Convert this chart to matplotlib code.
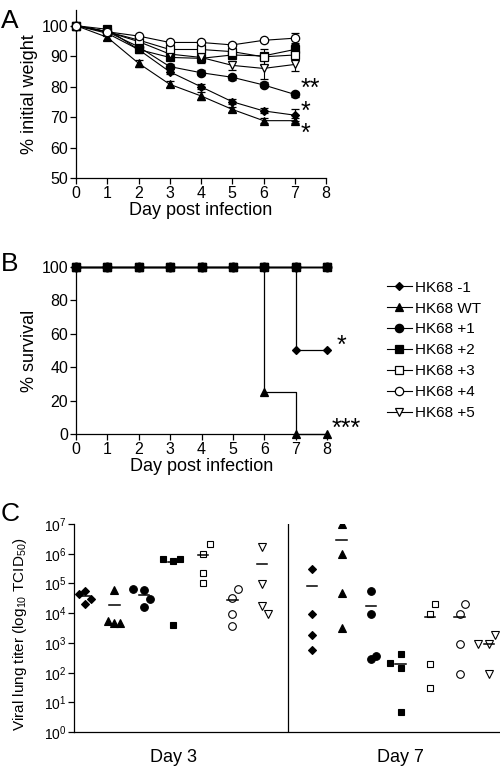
import numpy as np
import matplotlib
matplotlib.use("Agg")
import matplotlib.pyplot as plt
from matplotlib.ticker import NullLocator

plt.rcParams['font.family'] = ['Liberation Sans', 'DejaVu Sans']
plt.rcParams['mathtext.fontset'] = 'custom'
plt.rcParams['mathtext.rm'] = 'Liberation Sans'
plt.rcParams['mathtext.it'] = 'Liberation Sans'

# ---------------- data ----------------
groups = ['HK68 -1', 'HK68 WT', 'HK68 +1', 'HK68 +2', 'HK68 +3', 'HK68 +4', 'HK68 +5']

# panel A: weight (% of initial), days 0..7
days_w = [0, 1, 2, 3, 4, 5, 6, 7]
w_m1 = [100, 97.5, 92.2, 84.9, 80.0, 75.1, 72.1, 70.7]
w_wt = [100, 96.2, 87.7, 80.8, 77.0, 72.6, 68.9, 68.9]
w_p1 = [100, 98.0, 93.1, 86.6, 84.6, 83.1, 80.6, 77.5]
w_p2 = [100, 98.8, 92.2, 89.6, 89.3, 90.4, 90.1, 92.2]
w_p3 = [100, 98.0, 95.3, 92.2, 92.2, 91.5, 89.8, 90.4]
w_p4 = [100, 98.0, 96.6, 94.5, 94.5, 93.7, 95.2, 95.9]
w_p5 = [100, 98.0, 94.8, 90.7, 89.6, 87.0, 86.0, 87.3]

e_m1 = [0, 0.5, 0.8, 0.8, 0.8, 0.8, 0.8, 2.0]
e_wt = [0, 1.0, 1.2, 1.0, 1.3, 0.8, 0.8, 0.8]
e_p1 = [0, 0.5, 0.8, 0.8, 0.8, 0.8, 0.8, 0.8]
e_p2 = [0, 0.5, 1.0, 1.0, 1.5, 1.0, 1.0, 2.0]
e_p3 = [0, 0.5, 0.8, 0.8, 1.0, 1.5, 2.6, 1.5]
e_p4 = [0, 0.5, 0.5, 0.5, 0.5, 0.5, 0.5, 1.8]
e_p5 = [0, 0.5, 0.8, 0.8, 0.8, 1.5, 3.6, 2.0]

# panel B: survival (%), days 0..8
days_s = [0, 1, 2, 3, 4, 5, 6, 7, 8]
s_m1 = [100, 100, 100, 100, 100, 100, 100, 50, 50]
s_wt = [100, 100, 100, 100, 100, 100, 25, 0, 0]
s_p1 = [100, 100, 100, 100, 100, 100, 100, 100, 100]
s_p2 = [100, 100, 100, 100, 100, 100, 100, 100, 100]
s_p3 = [100, 100, 100, 100, 100, 100, 100, 100, 100]
s_p4 = [100, 100, 100, 100, 100, 100, 100, 100, 100]
s_p5 = [100, 100, 100, 100, 100, 100, 100, 100, 100]

# panel C: viral lung titers (TCID50), 4 mice per group
titer_d3 = [
    [5.7e4, 4.3e4, 3.0e4, 2.0e4],
    [6.0e4, 5.4e3, 4.6e3, 4.6e3],
    [6.3e4, 6.0e4, 3.0e4, 1.6e4],
    [6.5e5, 5.6e5, 6.5e5, 4.0e3],
    [2.2e6, 1.0e6, 2.3e5, 1.0e5],
    [6.3e4, 3.2e4, 9.3e3, 3.8e3],
    [1.7e6, 9.5e4, 1.7e4, 9.8e3],
]
titer_d7 = [
    [3.0e5, 9.3e3, 1.9e3, 5.8e2],
    [9.8e6, 9.5e5, 4.9e4, 3.2e3],
    [5.6e4, 9.3e3, 2.8e2, 3.7e2],
    [2.1e2, 4.3e2, 1.4e2, 4.7],
    [2.1e4, 9.8e3, 1.9e2, 3.0e1],
    [2.1e4, 9.8e3, 9.1e2, 9.3e1],
    [1.9e3, 9.1e2, 9.1e2, 9.3e1],
]
mean_d3 = [3.8e4, 1.9e4, 4.1e4, 5.4e5, 9.1e5, 2.8e4, 4.5e5]
mean_d7 = [8.1e4, 2.8e6, 1.7e4, 2.0e2, 7.6e3, 7.6e3, 9.5e2]
titer_ticks = [1e0, 1e1, 1e2, 1e3, 1e4, 1e5, 1e6, 1e7]

# horizontal scatter of the points within a group
jit_d3 = [
    [0.0, -0.2, 0.2, 0.0],
    [0.0, -0.23, 0.0, 0.2],
    [-0.37, 0.0, 0.2, 0.0],
    [-0.35, 0.0, 0.23, 0.0],
    [0.25, 0.0, 0.0, 0.0],
    [0.2, 0.0, 0.0, 0.0],
    [0.0, 0.0, 0.0, 0.2],
]
jit_d7 = [
    [0.0, 0.0, 0.0, 0.0],
    [0.0, 0.0, 0.0, 0.0],
    [0.0, 0.0, 0.0, 0.18],
    [-0.37, 0.0, 0.0, 0.0],
    [0.17, 0.0, 0.0, 0.0],
    [0.2, 0.0, 0.0, 0.0],
    [0.2, 0.0, -0.36, 0.0],
]

# ---------------- styles ----------------
markers = ['D', '^', 'o', 's', 's', 'o', 'v']
faces = ['k', 'k', 'k', 'k', 'w', 'w', 'w']
msizes = [4.5, 6, 6, 5.5, 5.5, 6, 6]

weights = [w_m1, w_wt, w_p1, w_p2, w_p3, w_p4, w_p5]
errs = [e_m1, e_wt, e_p1, e_p2, e_p3, e_p4, e_p5]
surv = [s_m1, s_wt, s_p1, s_p2, s_p3, s_p4, s_p5]


def style_axis(ax):
    for s in ['top', 'right']:
        ax.spines[s].set_visible(False)
    for s in ['left', 'bottom']:
        ax.spines[s].set_linewidth(0.9)
    ax.tick_params(direction='out', length=4, width=0.9, labelsize=11.5, pad=1.5)


fig = plt.figure(figsize=(5.0, 7.69), dpi=100)

# ---------------- panel A ----------------
axA = fig.add_axes([0.152, 0.768, 0.5, 0.2185])
draw_order = [1, 0, 2, 3, 6, 4, 5]
for i in draw_order:
    axA.errorbar(days_w, weights[i], yerr=errs[i], color='k', lw=0.8,
                 marker=markers[i], ms=msizes[i], mfc=faces[i], mec='k', mew=0.9,
                 capsize=3, elinewidth=0.8, capthick=0.8, clip_on=False, zorder=3)
axA.set_xlim(0, 8)
axA.set_ylim(50, 105)
axA.set_xticks(range(0, 9))
axA.set_yticks(range(50, 101, 10))
axA.set_xlabel('Day post infection', fontsize=13, labelpad=1)
axA.set_ylabel('% initial weight', fontsize=13, labelpad=3)
style_axis(axA)
axA.text(7.2, 79.3, '**', fontsize=18, ha='left', va='center')
axA.text(7.2, 71.8, '*', fontsize=18, ha='left', va='center')
axA.text(7.2, 64.5, '*', fontsize=18, ha='left', va='center')
fig.text(0.002, 0.988, 'A', fontsize=19, ha='left', va='top')

# ---------------- panel B ----------------
axB = fig.add_axes([0.152, 0.4353, 0.502, 0.2179])
handles = []
for i in [6, 5, 4, 2, 0, 1, 3]:
    axB.step(days_s, surv[i], where='post', color='k', lw=0.9, clip_on=False, zorder=2)
    axB.plot(days_s, surv[i], ls='none', marker=markers[i], ms=msizes[i],
             mfc=faces[i], mec='k', mew=0.9, clip_on=False, zorder=3)
for i in range(7):
    h, = axB.plot([], [], color='k', lw=0.8, marker=markers[i], ms=msizes[i],
                  mfc=faces[i], mec='k', mew=0.9, label=groups[i])
    handles.append(h)
axB.set_xlim(0, 8)
axB.set_ylim(0, 100)
axB.set_xticks(range(0, 9))
axB.set_yticks(range(0, 101, 20))
axB.set_xlabel('Day post infection', fontsize=13, labelpad=1)
axB.set_ylabel('% survival', fontsize=13, labelpad=3)
style_axis(axB)
axB.text(8.3, 53, '*', fontsize=18, ha='left', va='center')
axB.text(8.15, 3, '***', fontsize=18, ha='left', va='center')
fig.legend(handles=handles, loc='upper left', bbox_to_anchor=(0.759, 0.645),
           frameon=False, fontsize=11, handlelength=1.6, handletextpad=0.2,
           labelspacing=0.45, borderpad=0)
fig.text(0.002, 0.672, 'B', fontsize=19, ha='left', va='top')

# ---------------- panel C ----------------
axC = fig.add_axes([0.148, 0.0478, 0.852, 0.2708])
pos_d3 = np.arange(1, 8)
pos_d7 = np.arange(1, 8) + 7.7
for i in range(7):
    for pos, tit, jit, mean in [(pos_d3[i], titer_d3[i], jit_d3[i], mean_d3[i]),
                                (pos_d7[i], titer_d7[i], jit_d7[i], mean_d7[i])]:
        axC.plot(pos + np.array(jit), tit, ls='none', marker=markers[i],
                 ms=msizes[i] - 0.5, mfc=faces[i], mec='k', mew=0.8, zorder=3)
        axC.plot([pos - 0.18, pos + 0.18], [mean, mean], color='k', lw=1.1, zorder=4)
axC.axvline(7.88, color='k', lw=0.9)
axC.set_yscale('log')
axC.set_ylim(1, 1e7)
axC.set_xlim(0.63, 15.07)
axC.set_yticks(titer_ticks)
axC.yaxis.set_minor_locator(NullLocator())
axC.set_xticks([4, 11.68])
axC.set_xticklabels(['Day 3', 'Day 7'])
axC.set_ylabel('Viral lung titer (log$_{10}$ TCID$_{50}$)', fontsize=11)
axC.yaxis.set_label_coords(-0.105, 0.47)
style_axis(axC)
axC.tick_params(axis='x', length=0, pad=12, labelsize=13)
axC.tick_params(axis='y', labelsize=10)
fig.text(0.002, 0.347, 'C', fontsize=19, ha='left', va='top')

fig.savefig('out.png', dpi=100)
